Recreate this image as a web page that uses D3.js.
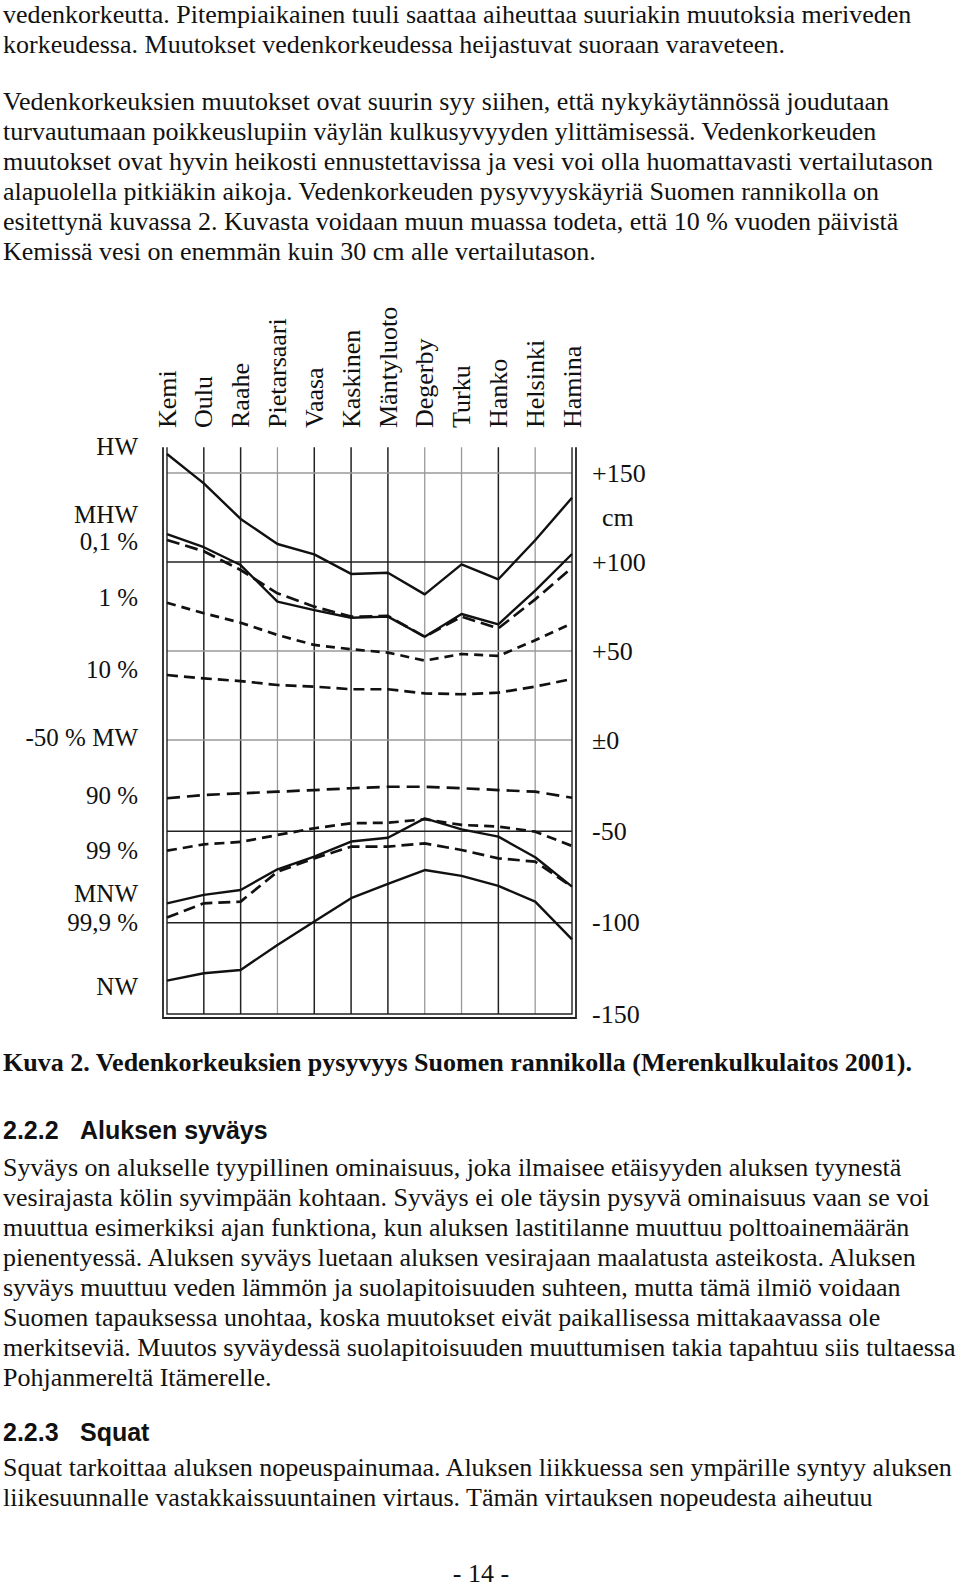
<!DOCTYPE html>
<html>
<head>
<meta charset="utf-8">
<script src="https://cdn.jsdelivr.net/npm/d3@7"></script>
<style>
  body { margin: 0; background: #fff; }
  svg text { fill: #111; }
</style>
</head>
<body>
<div id="page"></div>
<script>
  const width = 960;
  const height = 1590;

  // stations along the coast, north -> east
  const stations = ["Kemi", "Oulu", "Raahe", "Pietarsaari", "Vaasa", "Kaskinen",
    "Mäntyluoto", "Degerby", "Turku", "Hanko", "Helsinki", "Hamina"];

  // water levels in cm
  const hw    = [160.7, 144.2, 124.2, 110.1, 104.3, 93.3, 94.0, 81.8, 98.7, 90.3, 112.2, 136.1];
  const mhw   = [115.6, 108.3, 98.3, 77.7, 73.0, 68.7, 69.3, 58.0, 70.8, 65.0, 83.9, 104.5];
  const p0_1  = [112.4, 106.0, 95.5, 82.4, 74.9, 69.3, 69.7, 58.0, 69.3, 62.7, 79.0, 96.8];
  const p1    = [77.1, 71.2, 65.9, 59.0, 53.4, 51.0, 49.1, 44.6, 48.3, 47.2, 56.0, 65.5];
  const p10   = [36.5, 34.6, 33.1, 30.9, 30.0, 28.5, 28.5, 26.2, 25.7, 26.6, 30.0, 34.3];
  const p90   = [-31.9, -30.1, -29.2, -28.3, -27.4, -26.4, -25.6, -25.6, -26.4, -27.4, -28.3, -31.6];
  const p99   = [-60.6, -57.1, -55.8, -52.0, -48.3, -45.6, -45.3, -43.4, -46.5, -47.4, -50.2, -58.0];
  const mnw   = [-89.4, -84.8, -82.1, -70.8, -63.9, -55.6, -53.5, -42.9, -48.9, -52.9, -64.2, -80.3];
  const p99_9 = [-97.2, -89.4, -88.5, -72.1, -64.8, -58.4, -58.4, -56.6, -60.2, -64.8, -66.6, -80.3];
  const nw    = [-131.7, -127.7, -125.9, -112.2, -99.4, -86.6, -78.8, -71.2, -74.4, -79.9, -88.5, -109.1];

  // labels on the left and the level (cm) they sit at
  const levelLabels = ["HW", "MHW", "0,1 %", "1 %", "10 %", "-50 % MW", "90 %", "99 %", "MNW", "99,9 %", "NW"];
  const levelLabelCm = [164.6, 126.5, 111.5, 79.8, 39.3, 1, -30.7, -60.8, -84.0, -99.8, -135.2];

  // cm scale on the right
  const cmTicks = [150, 100, 50, 0, -50, -100, -150];
  const gridLevels = [150, 100, 50, 0, -50, -100];

  const para1 = [
    "vedenkorkeutta. Pitempiaikainen tuuli saattaa aiheuttaa suuriakin muutoksia meriveden",
    "korkeudessa. Muutokset vedenkorkeudessa heijastuvat suoraan varaveteen."
  ];
  const para2 = [
    "Vedenkorkeuksien muutokset ovat suurin syy siihen, että nykykäytännössä joudutaan",
    "turvautumaan poikkeuslupiin väylän kulkusyvyyden ylittämisessä. Vedenkorkeuden",
    "muutokset ovat hyvin heikosti ennustettavissa ja vesi voi olla huomattavasti vertailutason",
    "alapuolella pitkiäkin aikoja. Vedenkorkeuden pysyvyyskäyriä Suomen rannikolla on",
    "esitettynä kuvassa 2. Kuvasta voidaan muun muassa todeta, että 10 % vuoden päivistä",
    "Kemissä vesi on enemmän kuin 30 cm alle vertailutason."
  ];
  const caption = "Kuva 2. Vedenkorkeuksien pysyvyys Suomen rannikolla (Merenkulkulaitos 2001).";
  const para3 = [
    "Syväys on alukselle tyypillinen ominaisuus, joka ilmaisee etäisyyden aluksen tyynestä",
    "vesirajasta kölin syvimpään kohtaan. Syväys ei ole täysin pysyvä ominaisuus vaan se voi",
    "muuttua esimerkiksi ajan funktiona, kun aluksen lastitilanne muuttuu polttoainemäärän",
    "pienentyessä. Aluksen syväys luetaan aluksen vesirajaan maalatusta asteikosta. Aluksen",
    "syväys muuttuu veden lämmön ja suolapitoisuuden suhteen, mutta tämä ilmiö voidaan",
    "Suomen tapauksessa unohtaa, koska muutokset eivät paikallisessa mittakaavassa ole",
    "merkitseviä. Muutos syväydessä suolapitoisuuden muuttumisen takia tapahtuu siis tultaessa",
    "Pohjanmereltä Itämerelle."
  ];
  const para4 = [
    "Squat tarkoittaa aluksen nopeuspainumaa. Aluksen liikkuessa sen ympärille syntyy aluksen",
    "liikesuunnalle vastakkaissuuntainen virtaus. Tämän virtauksen nopeudesta aiheutuu"
  ];

  const serif = "'Liberation Serif', 'Times New Roman', serif";
  const sans = "'Liberation Sans', Arial, sans-serif";

  const svg = d3.select("#page")
    .append("svg")
    .attr("width", width)
    .attr("height", height);

  svg.append("rect").attr("width", width).attr("height", height).attr("fill", "#fff");

  // page text
  function lines(arr, y0, opts = {}) {
    svg.append("g")
      .selectAll("text")
      .data(arr)
      .join("text")
      .attr("x", opts.x || 3)
      .attr("y", (d, i) => y0 + i * 30)
      .style("font-family", opts.family || serif)
      .style("font-size", (opts.size || 26) + "px")
      .style("font-weight", opts.weight || "normal")
      .text(d => d);
  }
  lines(para1, 23);
  lines(para2, 110);
  lines([caption], 1071, { weight: "bold" });
  lines(["2.2.2"], 1139, { family: sans, weight: "bold", size: 25 });
  lines(["Aluksen syväys"], 1139, { family: sans, weight: "bold", size: 25, x: 80 });
  lines(para3, 1176);
  lines(["2.2.3"], 1441, { family: sans, weight: "bold", size: 25 });
  lines(["Squat"], 1441, { family: sans, weight: "bold", size: 25, x: 80 });
  lines(para4, 1476);

  svg.append("text")
    .attr("x", 481)
    .attr("y", 1582)
    .attr("text-anchor", "middle")
    .style("font-family", serif)
    .style("font-size", "26px")
    .text("- 14 -");

  // chart scales
  const x = d3.scalePoint()
    .domain(stations)
    .range([167, 572]);

  const y = d3.scaleLinear()
    .domain([-150, 0, 150])
    .range([1014, 740, 473]);

  const yTop = y(164.5);
  const chart = svg.append("g");

  // vertical grid
  const darkStations = ["Oulu", "Raahe", "Vaasa", "Kaskinen", "Mäntyluoto", "Hanko"];
  chart.append("g")
    .selectAll("line")
    .data(stations.slice(1, -1))
    .join("line")
    .attr("x1", d => x(d))
    .attr("x2", d => x(d))
    .attr("y1", yTop)
    .attr("y2", y(-150))
    .attr("stroke", d => darkStations.includes(d) ? "#222" : "#9a9a9a")
    .attr("stroke-width", d => darkStations.includes(d) ? 1.5 : 1.3);

  // horizontal grid
  const darkLevels = [100, -50, -100];
  chart.append("g")
    .selectAll("line")
    .data(gridLevels)
    .join("line")
    .attr("x1", x(stations[0]))
    .attr("x2", x(stations[stations.length - 1]))
    .attr("y1", d => y(d))
    .attr("y2", d => y(d))
    .attr("stroke", d => darkLevels.includes(d) ? "#222" : "#9a9a9a")
    .attr("stroke-width", d => darkLevels.includes(d) ? 1.5 : 1.3);

  // double frame, open at the top
  const x0 = x(stations[0]);
  const x1 = x(stations[stations.length - 1]);
  [0, 4].forEach(off => {
    chart.append("path")
      .attr("d", `M${x0 - off},${yTop}V${y(-150) + off}H${x1 + off}V${yTop}`)
      .attr("fill", "none")
      .attr("stroke", "#222")
      .attr("stroke-width", off ? 1.8 : 1.4);
  });

  // series
  const series = [
    { values: hw, dash: null },
    { values: mhw, dash: null },
    { values: p0_1, dash: "13,6" },
    { values: p1, dash: "9,6" },
    { values: p10, dash: "11,6" },
    { values: p90, dash: "13,7" },
    { values: p99, dash: "10,6" },
    { values: mnw, dash: null },
    { values: p99_9, dash: "12,6" },
    { values: nw, dash: null }
  ];

  const line = d3.line()
    .x((d, i) => x(stations[i]))
    .y(d => y(d));

  chart.append("g")
    .selectAll("path")
    .data(series)
    .join("path")
    .attr("d", d => line(d.values))
    .attr("fill", "none")
    .attr("stroke", "#111")
    .attr("stroke-width", d => d.dash ? 2.7 : 2.4)
    .attr("stroke-dasharray", d => d.dash)
    .attr("stroke-linejoin", "round");

  // station names, rotated
  chart.append("g")
    .selectAll("text")
    .data(stations)
    .join("text")
    .attr("transform", d => `translate(${x(d)},428) rotate(-90)`)
    .attr("dy", "0.33em")
    .style("font-family", serif)
    .style("font-size", "26px")
    .text(d => d);

  // level labels on the left
  chart.append("g")
    .selectAll("text")
    .data(levelLabels)
    .join("text")
    .attr("x", 138)
    .attr("y", (d, i) => y(levelLabelCm[i]))
    .attr("dy", "0.33em")
    .attr("text-anchor", "end")
    .style("font-family", serif)
    .style("font-size", "25px")
    .text(d => d);

  // cm axis on the right
  const axis = chart.append("g")
    .attr("transform", `translate(${x1 + 4},0)`)
    .call(d3.axisRight(y)
      .tickValues(cmTicks)
      .tickSize(0)
      .tickPadding(16)
      .tickFormat(d => d > 0 ? "+" + d : d === 0 ? "±0" : String(d)));
  axis.select(".domain").remove();
  axis.selectAll("text")
    .style("font-family", serif)
    .style("font-size", "26px")
    .attr("fill", "#111");

  chart.append("text")
    .attr("x", x1 + 30)
    .attr("y", y(125))
    .attr("dy", "0.33em")
    .style("font-family", serif)
    .style("font-size", "26px")
    .text("cm");
</script>
</body>
</html>
